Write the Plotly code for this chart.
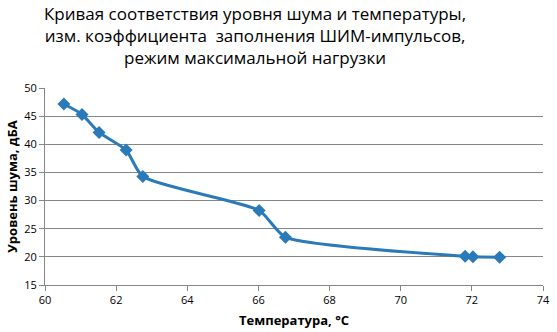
import plotly.graph_objects as go

temperature = [60.53, 61.04, 61.52, 62.28, 62.75, 66.02, 66.76, 71.81, 72.03, 72.78]
noise_dba = [47.15, 45.3, 42.1, 38.97, 34.27, 28.23, 23.5, 20.1, 20.0, 19.95]

title_lines = ["Кривая соответствия уровня шума и температуры,",
               "изм. коэффициента  заполнения ШИМ-импульсов,",
               "режим максимальной нагрузки"]

fig = go.Figure()
fig.add_trace(go.Scatter(
    x=temperature, y=noise_dba, mode="lines+markers",
    line=dict(color="#2a7ab9", width=3, shape="spline", smoothing=0.6),
    marker=dict(symbol="diamond", size=10, color="#2a7ab9"),
    showlegend=False,
))

fig.add_annotation(
    text="<br>".join(title_lines), xref="paper", yref="paper",
    x=0.422, xanchor="center", y=1.445, yanchor="top", showarrow=False,
    align="center", font=dict(family="Open Sans", size=17, color="#000000"),
)

fig.update_layout(
    width=557, height=332,
    margin=dict(l=45, r=7, t=88, b=47),
    paper_bgcolor="white", plot_bgcolor="white",
    font=dict(family="Open Sans", color="#000000", size=11),
)
fig.update_xaxes(
    range=[60, 74], dtick=2, tick0=60, showgrid=False, zeroline=False,
    showline=True, linecolor="#868686", linewidth=1,
    ticks="outside", ticklen=5, tickcolor="#868686",
    title=dict(text="<b>Температура, °C</b>", font=dict(size=13), standoff=9),
)
fig.update_yaxes(
    range=[15, 50], dtick=5, tick0=15, showgrid=True, gridcolor="#868686",
    gridwidth=1, zeroline=False,
    showline=True, linecolor="#868686", linewidth=1,
    ticks="outside", ticklen=5, tickcolor="#868686",
    title=dict(text="<b>Уровень шума, дБА</b>", font=dict(size=13), standoff=3),
)

fig.write_html("out.html")
